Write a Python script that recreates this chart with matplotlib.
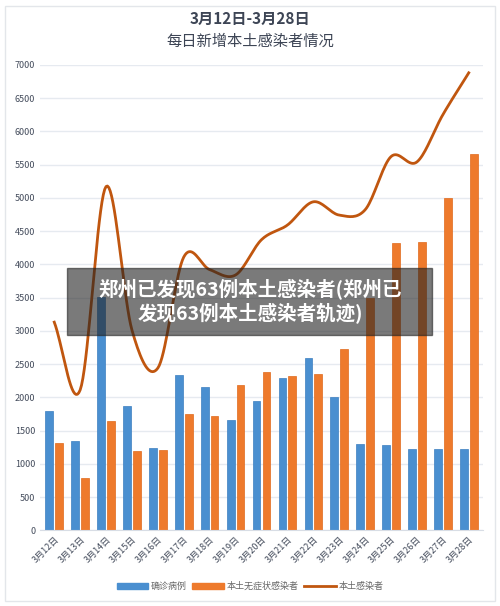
import numpy as np
import matplotlib
matplotlib.use("Agg")
import matplotlib.pyplot as plt
from matplotlib.patches import Rectangle

plt.rcParams['font.family'] = ['Noto Sans CJK SC', 'DejaVu Sans']

dates = ["3月%d日" % d for d in range(12, 29)]
confirmed = [1800, 1340, 3510, 1870, 1235, 2330, 2150, 1660, 1940, 2290, 2590, 2000, 1300, 1280, 1220, 1220, 1220]
asymptomatic = [1310, 780, 1650, 1190, 1200, 1750, 1720, 2180, 2380, 2320, 2350, 2730, 3490, 4320, 4340, 5000, 5660]
local_total = [3130, 2110, 5170, 3010, 2440, 4110, 3920, 3840, 4370, 4590, 4940, 4740, 4820, 5620, 5540, 6250, 6880]

fig = plt.figure(figsize=(5, 6.06), dpi=100)
fig.patches.append(Rectangle((0.01, 0.008), 0.98, 0.982, transform=fig.transFigure,
                             fill=False, edgecolor='#e3e6ea', lw=1))
ax = fig.add_axes([0.08, 0.125, 0.886, 0.768])
x = np.arange(len(dates))
w = 0.3
ax.bar(x - 0.19, confirmed, w, color='#4a8fd0', edgecolor='#3c7fc0', lw=0.5, zorder=2)
ax.bar(x + 0.19, asymptomatic, w, color='#ee7a2c', edgecolor='#e06a1c', lw=0.5, zorder=2)

# smooth curve (Catmull-Rom through the data points)
y = np.array(local_total, float)
px = np.concatenate([[x[0] - 1], x, [x[-1] + 1]]).astype(float)
py = np.concatenate([[2 * y[0] - y[1]], y, [2 * y[-1] - y[-2]]])
xs, ys = [], []
for i in range(1, len(px) - 2):
    t = np.linspace(0, 1, 20)
    for arr, out in ((px, xs), (py, ys)):
        p0, p1, p2, p3 = arr[i - 1], arr[i], arr[i + 1], arr[i + 2]
        out.extend(0.5 * (2 * p1 + (-p0 + p2) * t + (2 * p0 - 5 * p1 + 4 * p2 - p3) * t ** 2
                          + (-p0 + 3 * p1 - 3 * p2 + p3) * t ** 3))
ax.plot(xs, ys, color='#c0560f', lw=2, zorder=3)

ax.set_ylim(0, 7000)
ax.set_xlim(-0.55, len(dates) - 0.45)
ax.set_yticks(range(0, 7001, 500))
ax.tick_params(axis='y', length=0, labelsize=6.5, colors='#444c5c')
ax.set_xticks(x)
ax.set_xticklabels(dates, rotation=45, ha='right', rotation_mode='anchor', fontsize=6.5, color='#444c5c')
ax.tick_params(axis='x', length=0)
ax.grid(axis='y', color='#e6eaf0', lw=1, zorder=0)
for s in ['top', 'right', 'left']:
    ax.spines[s].set_visible(False)
ax.spines['bottom'].set_color('#d8dde5')

fig.text(0.5, 0.968, "3月12日-3月28日", ha='center', va='center', fontsize=11, fontweight='bold', color='#3d4555')
fig.text(0.5, 0.932, "每日新增本土感染者情况", ha='center', va='center', fontsize=11, color='#3d4555')

from matplotlib.patches import Patch
from matplotlib.lines import Line2D
handles = [Patch(color='#4a8fd0'), Patch(color='#ee7a2c'), Line2D([0], [0], color='#c0560f', lw=2)]
fig.legend(handles, ["确诊病例", "本土无症状感染者", "本土感染者"], loc='center', bbox_to_anchor=(0.5, 0.032),
           ncol=3, frameon=False, fontsize=6.5, handlelength=3.5, handleheight=0.6, columnspacing=0.6,
           handletextpad=0.3, labelcolor='#666666')

fig.patches.append(Rectangle((0.134, 0.447), 0.73, 0.111, transform=fig.transFigure,
                             color='#222222', alpha=0.6, zorder=10))
fig.text(0.5, 0.503, "郑州已发现63例本土感染者(郑州已\n发现63例本土感染者轨迹)", ha='center', va='center',
         fontsize=14, fontweight='bold', color='white', linespacing=1.25, zorder=11)

fig.savefig("out.png", dpi=100)
